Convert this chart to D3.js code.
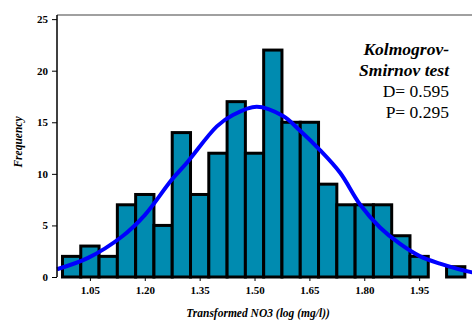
<!DOCTYPE html>
<html>
<head>
<meta charset="utf-8">
<script src="https://cdn.jsdelivr.net/npm/d3@7"></script>
<style>
  body { margin: 0; background: #fff; }
  svg { display: block; font-family: 'Liberation Serif', 'Times New Roman', serif; }
</style>
</head>
<body>
<svg id="chart" width="472" height="325"></svg>
<script>
// histogram bins (centre of each bin) and counts
const binCenters = [1.00, 1.05, 1.10, 1.15, 1.20, 1.25, 1.30, 1.35, 1.40, 1.45, 1.50,
  1.55, 1.60, 1.65, 1.70, 1.75, 1.80, 1.85, 1.90, 1.95, 2.00, 2.05]
const counts = [2, 3, 2, 7, 8, 5, 14, 8, 12, 17, 12, 22, 15, 15, 9, 7, 7, 7, 4, 2, 0, 1]
const binWidth = 0.05

// fitted normal curve
const curveX = [0.96, 1.045, 1.137, 1.20, 1.273, 1.318, 1.397, 1.441, 1.506, 1.578,
  1.624, 1.679, 1.734, 1.789, 1.843, 1.898, 1.953, 2.007, 2.089, 2.10]
const curveY = [0.75, 1.85, 3.9, 6.0, 9.4, 11.2, 14.6, 15.7, 16.5, 15.6,
  14.2, 12.3, 10.1, 7.0, 4.8, 3.2, 2.0, 1.3, 0.5, 0.45]

const xTicks = [1.05, 1.20, 1.35, 1.50, 1.65, 1.80, 1.95]
const yTicks = [0, 5, 10, 15, 20, 25]
const statLines = ['Kolmogrov-', 'Smirnov test', 'D= 0.595', 'P= 0.295']

const svg = d3.select('#chart')
const plotLeft = 57
const plotRight = 474
const plotTop = 15
const plotBottom = 277

const x = d3.scaleLinear().domain([0.96, 2.10]).range([plotLeft, plotRight])
const y = d3.scaleLinear().domain([0, 25.4]).range([plotBottom, plotTop])

// bars
svg.append('g')
  .selectAll('rect')
  .data(binCenters)
  .join('rect')
  .attr('x', (d) => x(d - binWidth / 2))
  .attr('width', (d) => x(d + binWidth / 2) - x(d - binWidth / 2))
  .attr('y', (d, i) => y(counts[i]))
  .attr('height', (d, i) => y(0) - y(counts[i]))
  .attr('fill', '#008bb0')
  .attr('stroke', '#000')
  .attr('stroke-width', (d, i) => (counts[i] === 0 ? 1 : 3))

// normal curve
const line = d3.line()
  .x((d, i) => x(curveX[i]))
  .y((d) => y(d))
  .curve(d3.curveCatmullRom)
svg.append('path')
  .datum(curveY)
  .attr('fill', 'none')
  .attr('stroke', '#0000ff')
  .attr('stroke-width', 4)
  .attr('d', line)

// top frame line
svg.append('line')
  .attr('x1', plotLeft).attr('x2', 472)
  .attr('y1', plotTop).attr('y2', plotTop)
  .attr('stroke', '#808080')
  .attr('stroke-width', 1.5)

// y axis
const yAxis = svg.append('g')
  .attr('transform', `translate(${plotLeft},0)`)
  .call(d3.axisLeft(y).tickValues(yTicks).tickSize(5).tickPadding(4).tickFormat(d3.format('d')))
yAxis.select('.domain').attr('d', `M0,${plotTop}V${plotBottom}`).attr('stroke-width', 1.5)
yAxis.selectAll('text')
  .attr('font-size', 11)
  .attr('font-weight', 'bold')
  .attr('font-family', 'Liberation Serif, serif')

// x axis
const xAxis = svg.append('g')
  .attr('transform', `translate(0,${plotBottom})`)
  .call(d3.axisBottom(x).tickValues(xTicks).tickSize(4).tickPadding(5).tickFormat(d3.format('.2f')))
xAxis.select('.domain').remove()
xAxis.selectAll('text')
  .attr('font-size', 11)
  .attr('font-weight', 'bold')
  .attr('font-family', 'Liberation Serif, serif')

// axis titles
svg.append('text')
  .attr('x', 258)
  .attr('y', 317)
  .attr('text-anchor', 'middle')
  .attr('font-size', 11.5)
  .attr('font-weight', 'bold')
  .attr('font-style', 'italic')
  .text('Transformed NO3 (log (mg/l))')

svg.append('text')
  .attr('transform', 'translate(22,142) rotate(-90)')
  .attr('text-anchor', 'middle')
  .attr('font-size', 11.5)
  .attr('font-weight', 'bold')
  .attr('font-style', 'italic')
  .text('Frequency')

// test statistics
svg.append('g')
  .selectAll('text')
  .data(statLines)
  .join('text')
  .attr('x', 449)
  .attr('y', (d, i) => 55 + i * 21)
  .attr('text-anchor', 'end')
  .attr('font-size', 17.5)
  .attr('font-weight', (d, i) => (i < 2 ? 'bold' : 'normal'))
  .attr('font-style', (d, i) => (i < 2 ? 'italic' : 'normal'))
  .attr('font-family', 'Liberation Serif, serif')
  .text((d) => d)
</script>
</body>
</html>
